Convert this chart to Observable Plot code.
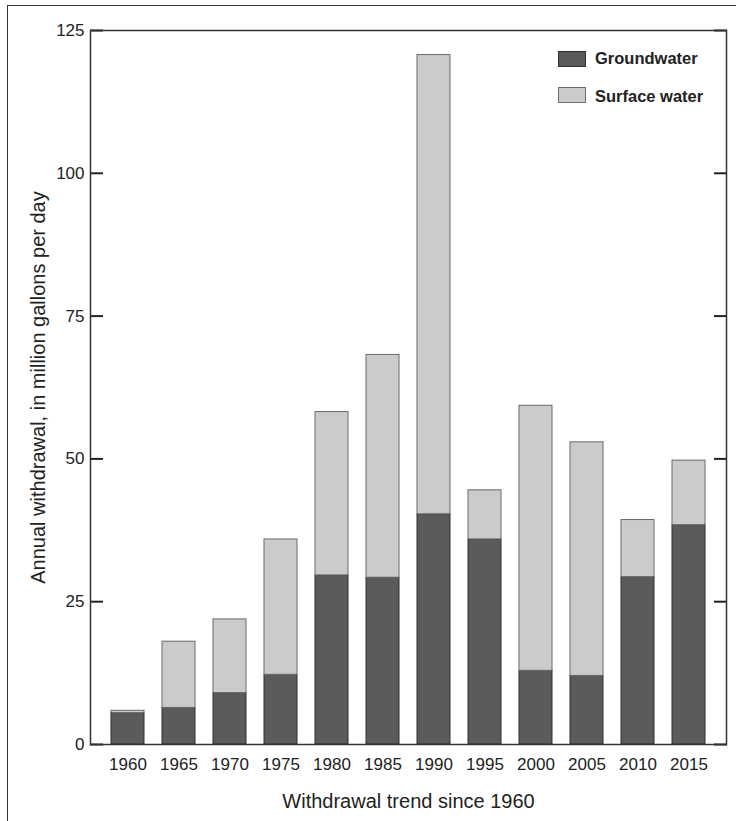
<!DOCTYPE html>
<html><head><meta charset="utf-8">
<script src="https://cdn.jsdelivr.net/npm/d3@7"></script>
<script src="https://cdn.jsdelivr.net/npm/@observablehq/plot@0.6"></script>
<style>
html,body{margin:0;padding:0;background:#fff;}
body{width:736px;height:821px;overflow:hidden;position:relative;font-family:"Liberation Sans",Arial,sans-serif;}
#frame{position:absolute;left:7px;top:5px;width:780px;height:880px;border:1.5px solid #333;box-sizing:border-box;}
#chart{position:absolute;left:0;top:0;}
.sw{position:absolute;left:558px;width:28px;height:16px;box-sizing:border-box;}
.lt{position:absolute;left:595px;font-weight:bold;font-size:16.5px;line-height:16px;color:#222;white-space:nowrap;}
</style>
</head><body>
<div id="frame"></div>
<div id="chart"></div>
<script>
const years = ["1960","1965","1970","1975","1980","1985","1990","1995","2000","2005","2010","2015"];
const groundwater = [5.5, 6.4, 9.0, 12.2, 29.6, 29.2, 40.3, 35.9, 12.9, 12.0, 29.3, 38.4];
const surfaceWater = [0.4, 11.6, 12.9, 23.7, 28.6, 39.0, 80.4, 8.6, 46.4, 40.9, 10.0, 11.3];
const seriesNames = ["Groundwater", "Surface water"];
const seriesColors = ["#5a5c5b", "#cbcbcb"];
const seriesStrokes = ["#2e2e2e", "#6a6a6a"];
const yTicks = [0, 25, 50, 75, 100, 125];
const xTitle = "Withdrawal trend since 1960";
const yTitle = "Annual withdrawal, in million gallons per day";

const gRows = years.map((y, i) => ({year: y, y1: 0, y2: groundwater[i]}));
const sRows = years.map((y, i) => ({year: y, y1: groundwater[i], y2: groundwater[i] + surfaceWater[i]}));

const chart = Plot.plot({
  width: 736,
  height: 821,
  marginTop: 30,
  marginLeft: 90,
  marginRight: 10,
  marginBottom: 77,
  style: {fontFamily: '"Liberation Sans", Arial, sans-serif', fontSize: "17px", color: "#222", background: "transparent"},
  x: {domain: years, paddingInner: 0.353, paddingOuter: 0.41, label: null},
  y: {domain: [0, 125], label: null},
  marks: [
    Plot.barY(gRows, {x: "year", y1: "y1", y2: "y2", fill: seriesColors[0], stroke: seriesStrokes[0], strokeWidth: 1}),
    Plot.barY(sRows, {x: "year", y1: "y1", y2: "y2", fill: seriesColors[1], stroke: seriesStrokes[1], strokeWidth: 1}),
    Plot.axisX({tickSize: 0, tickPadding: 13, fontSize: 17, label: null}),
    Plot.axisY({ticks: yTicks, tickSize: 0, tickPadding: 6, fontSize: 17, label: null}),
    Plot.axisY({ticks: yTicks, anchor: "left", tickSize: 13, dx: 13, text: null, stroke: "#222", strokeWidth: 2, label: null}),
    Plot.axisY({ticks: yTicks, anchor: "right", tickSize: 13, dx: -13, text: null, stroke: "#222", strokeWidth: 2, label: null}),
    Plot.frame({stroke: "#333", strokeWidth: 1.5}),
    Plot.text([xTitle], {text: d => d, frameAnchor: "bottom", lineAnchor: "bottom", dy: 63, fontSize: 20, fill: "#222"}),
    Plot.text([yTitle], {text: d => d, frameAnchor: "left", textAnchor: "middle", lineAnchor: "middle", rotate: -90, dx: -52, fontSize: 20, fill: "#222"})
  ]
});
document.getElementById("chart").appendChild(chart);

const legendTops = [51, 87];
const textTops = [49.5, 88];
seriesNames.forEach((name, i) => {
  const sw = document.createElement("div");
  sw.className = "sw";
  sw.style.top = legendTops[i] + "px";
  sw.style.background = seriesColors[i];
  sw.style.border = "1px solid " + seriesStrokes[i];
  document.body.appendChild(sw);
  const t = document.createElement("div");
  t.className = "lt";
  t.style.top = textTops[i] + "px";
  t.textContent = name;
  document.body.appendChild(t);
});
</script>
</body></html>
